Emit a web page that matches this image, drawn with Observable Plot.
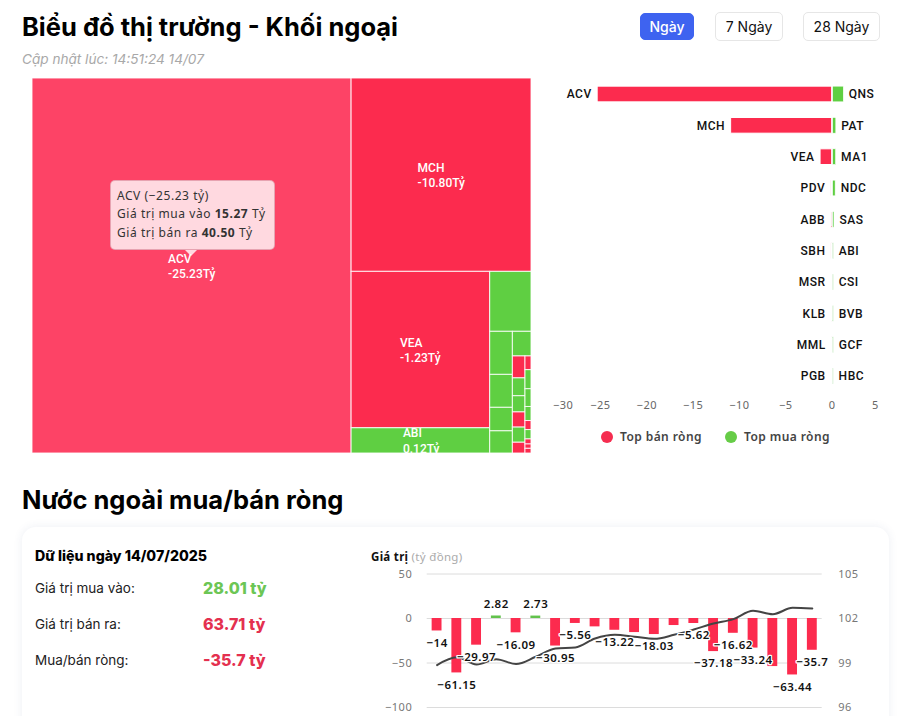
<!DOCTYPE html>
<html lang="vi">
<head>
<meta charset="utf-8">
<script src="https://cdn.jsdelivr.net/npm/d3@7"></script>
<script src="https://cdn.jsdelivr.net/npm/@observablehq/plot@0.6"></script>
<style>
html,body{margin:0;padding:0;background:#fff;width:902px;height:716px;overflow:hidden;font-family:Inter,sans-serif;color:#000}
.abs{position:absolute;white-space:nowrap}
h1,h2{margin:0;font-weight:700}
.btn{position:absolute;box-sizing:border-box;display:flex;align-items:center;justify-content:center;font-size:14px;border:1px solid #e6e6e6;border-radius:5px;color:#111;background:#fff}
#card{position:absolute;left:22px;top:527px;width:867px;height:260px;border-radius:14px;background:#fff;box-shadow:0 0 10px rgba(60,80,130,.09)}
#tip{position:absolute;left:110px;top:180px;width:165px;height:70px;box-sizing:border-box;background:rgba(255,255,255,.8);border-radius:5px;border:1px solid rgba(225,150,165,.8);padding:6px 6px;font:12px/18.3px "Noto Sans",sans-serif;letter-spacing:.55px;color:#333;white-space:nowrap}
#tip b{font-weight:700}
#tip:after{content:"";position:absolute;left:74px;top:69px;border:6px solid transparent;border-top-color:rgba(255,255,255,.8);border-bottom:0}
.leg{position:absolute;top:429px;font:600 12px/16px "Noto Sans",sans-serif;letter-spacing:.42px;color:#444;white-space:nowrap}
.dot{position:absolute;top:431px;width:12px;height:12px;border-radius:50%}
.lbl{position:absolute;left:35px;font-size:13.5px;color:#222;white-space:nowrap}
.val{position:absolute;left:203px;font-size:16px;font-weight:800;white-space:nowrap}
svg{overflow:visible}
</style>
</head>
<body>
<h1 class="abs" style="left:22px;top:10px;font-size:25.5px;line-height:34px">Biểu đồ thị trường - Khối ngoại</h1>
<div class="abs" style="left:22px;top:51px;font-size:13.6px;font-style:italic;color:#a8a8a8">Cập nhật lúc: 14:51:24 14/07</div>
<div class="btn" style="left:640px;top:13px;width:54px;height:27px;background:#3e63f0;border-color:#3e63f0;color:#fff;font-weight:500">Ngày</div>
<div class="btn" style="left:715px;top:12px;width:68px;height:29px">7 Ngày</div>
<div class="btn" style="left:803px;top:12px;width:77px;height:29px">28 Ngày</div>

<div id="treemap" class="abs" style="left:32px;top:78px"></div>
<div id="tip">ACV (−25.23 tỷ)<br>Giá trị mua vào <b>15.27</b> Tỷ<br>Giá trị bán ra <b>40.50</b> Tỷ</div>

<div id="bars" class="abs" style="left:540px;top:60px"></div>
<div class="dot" style="left:601px;background:#f52d50"></div>
<div class="leg" style="left:620px">Top bán ròng</div>
<div class="dot" style="left:725px;background:#66cc47"></div>
<div class="leg" style="left:744px">Top mua ròng</div>

<h2 class="abs" style="left:22px;top:483px;font-size:25.5px;line-height:34px">Nước ngoài mua/bán ròng</h2>
<div id="card"></div>
<div class="abs" style="left:35px;top:547px;font-size:14.2px;font-weight:800">Dữ liệu ngày 14/07/2025</div>
<div class="lbl" style="top:580px">Giá trị mua vào:</div>
<div class="val" style="top:578px;color:#6cc655">28.01 tỷ</div>
<div class="lbl" style="top:616px">Giá trị bán ra:</div>
<div class="val" style="top:614px;color:#e4304f">63.71 tỷ</div>
<div class="lbl" style="top:652px">Mua/bán ròng:</div>
<div class="val" style="top:650px;color:#e4304f">-35.7 tỷ</div>
<div class="abs" style="left:371px;top:549px;font:11.5px/15px 'Noto Sans',sans-serif;color:#aaa;letter-spacing:.3px"><b style="color:#111">Giá trị</b> (tỷ đồng)</div>
<div id="combo" class="abs" style="left:370px;top:560px"></div>

<script>
// ---------- Treemap: [name, signed cell weight] (negative = bán ròng) ----------
const tmLeft   = [["ACV", -118900]];
const tmTop    = [["MCH", -34560]];
const tmMiddle = [["VEA", -21545], ["ABI", 3475]];
const tmRightTop = [["QNS", 2460]];
const tmCol1 = [["PAT", 969], ["MA1", 742], ["NDC", 529], ["SAS", 499]];
const tmCol2Top = [["CSI", 456]];
const tmColA = [["PDV", -275], ["BVB", 224], ["GCF", 203], ["ABB", -190], ["HBC", 190], ["SBH", -135]];
const tmColB = [["MSR", -82], ["G1", 114], ["G2", 106], ["G3", 84], ["KLB", -54], ["G4", 56], ["MML", -30], ["PGB", -26], ["R1", -28]];
const tmLabels = [["ACV", "-25.23Tỷ"], ["MCH", "-10.80Tỷ"], ["VEA", "-1.23Tỷ"], ["ABI", "0.12Tỷ"]];

// ---------- Diverging bars ----------
const sellNames  = ["ACV","MCH","VEA","PDV","ABB","SBH","MSR","KLB","MML","PGB"];
const sellValues = [-25.3,-10.9,-1.25,-0.1,-0.12,-0.08,-0.06,-0.05,-0.05,-0.05];
const buyNames   = ["QNS","PAT","MA1","NDC","SAS","ABI","CSI","BVB","GCF","HBC"];
const buyValues  = [1.15,0.34,0.32,0.27,0.14,0.07,0.06,0.06,0.06,0.05];

// ---------- Net flow combo ----------
const sessions = ["17/06","18/06","19/06","20/06","23/06","24/06","25/06","26/06","27/06","30/06","01/07","02/07","03/07","04/07","07/07","08/07","09/07","10/07","11/07","14/07"];
const netValues = [-14,-61.15,-29.97,2.82,-16.09,2.73,-30.95,-5.56,-9.4,-13.22,-15.8,-18.03,-7.9,-5.62,-37.18,-16.62,-33.24,-54,-63.44,-35.7];
const hiddenLabels = ["27/06","01/07","03/07","10/07"];
const indexValues = [98.86,99.38,98.9,99.26,98.93,99.42,99.98,100.05,100.65,100.9,100.77,100.63,100.9,101.26,101.66,101.96,102.52,102.29,102.72,102.67];
const leftTicks = [50,0,-50,-100];
const rightTicks = [105,102,99,96];

const RED = "#fc2b4e", RED_HOVER = "#fd4366", GREEN = "#5fcf42";
const labelFont = {fontFamily:"'Noto Sans',sans-serif", letterSpacing:"0.5px", background:"transparent"};

// Treemap layout via d3
const leaf = ([name, w]) => ({name, value: Math.abs(w), neg: w < 0});
const tree = {children: [
  ...tmLeft.map(leaf),
  {children: [
    ...tmTop.map(leaf),
    {children: [
      {children: tmMiddle.map(leaf)},
      {children: [
        ...tmRightTop.map(leaf),
        {children: [
          {children: tmCol1.map(leaf)},
          {children: [
            ...tmCol2Top.map(leaf),
            {children: [{children: tmColA.map(leaf)}, {children: tmColB.map(leaf)}]}
          ]}
        ]}
      ]}
    ]}
  ]}
]};
const TW = 499, TH = 375;
const root = d3.treemap().tile(d3.treemapSliceDice).size([TW, TH])(d3.hierarchy(tree).sum(d => d.value || 0));
const cells = root.leaves().map(n => ({name:n.data.name, neg:n.data.neg, x0:n.x0, x1:n.x1, y0:n.y0, y1:n.y1}));
const labelled = tmLabels.map(([name, text]) => {
  const c = cells.find(d => d.name === name);
  return {text, label:`${name}\n${text}`, cx:(c.x0+c.x1)/2, cy:(c.y0+c.y1)/2};
});
document.getElementById("treemap").append(Plot.plot({
  width:TW, height:TH, margin:0,
  x:{domain:[0,TW], range:[0,TW], axis:null},
  y:{domain:[0,TH], range:[0,TH], axis:null},
  style:{background:"transparent"},
  marks:[
    Plot.rect(cells, {x1:"x0", x2:"x1", y1:"y0", y2:"y1",
      fill:d => d.name==="ACV" ? RED_HOVER : d.neg ? RED : GREEN, stroke:"#fff", strokeWidth:1, strokeOpacity:.85}),
    ...labelled.map(d => Plot.text([d], {x:"cx", y:"cy", text:"label", dx:-d.text.length*3, dy:d.text==="0.12Tỷ"?-1:-0.5, textAnchor:"start",
      lineHeight:1.3, fill:"#fff", fontSize:12, fontWeight:500, fontFamily:"Roboto,sans-serif"}))
  ]
}));

// Diverging bars
const rows = sellNames.map((s,i) => ({rank:i, sell:s, sv:sellValues[i], buy:buyNames[i], bv:buyValues[i]}));
const ranks = rows.map(d => d.rank);
document.getElementById("bars").append(Plot.plot({
  width:362, height:365,
  marginLeft:13.6, marginRight:24, marginTop:10.5, marginBottom:25.5,
  x:{domain:[-30,5]},
  y:{domain:ranks, padding:.5, round:false, axis:null},
  style:{...labelFont},
  marks:[
    Plot.tickX(rows, {x:0, y:"rank", stroke:"#e6ebf1", strokeWidth:2}),
    Plot.barX(rows, {x1:"sv", x2:0, y:"rank", fill:RED, stroke:"#fff", strokeWidth:1}),
    Plot.barX(rows, {x1:0, x2:"bv", y:"rank", fill:GREEN, stroke:"#fff", strokeWidth:.6, dx:1}),
    Plot.text(rows, {x:"sv", y:"rank", text:"sell", textAnchor:"end", dx:-6, fontSize:12, fontWeight:500, fill:"#111", fontFamily:"Roboto,sans-serif", letterSpacing:"0"}),
    Plot.text(rows, {x:"bv", y:"rank", text:"buy", textAnchor:"start", dx:6, fontSize:12, fontWeight:500, fill:"#111", fontFamily:"Roboto,sans-serif", letterSpacing:"0"}),
    Plot.axisX({ticks:[-25,-20,-15,-10,-5,0], tickSize:0, tickPadding:1, label:null, tickFormat:d=>d<0?"−"+(-d):d, fontSize:11, color:"#666"}),
    Plot.axisX({ticks:[-30], tickSize:0, tickPadding:1, label:null, dx:9, tickFormat:d=>"−"+(-d), fontSize:11, color:"#666"}),
    Plot.axisX({ticks:[5], tickSize:0, tickPadding:1, label:null, dx:-3, fontSize:11, color:"#666"})
  ]
}));

// Combo chart: index line mapped on to the net-value scale (secondary axis)
const toNet = d3.scaleLinear().domain([96,105]).range([-100,50]);
const combo = sessions.map((s,i) => ({s, net:netValues[i], idx:toNet(indexValues[i]),
  text:(netValues[i]<0 ? "−"+(-netValues[i]) : ""+netValues[i])}));
const shownNeg = combo.filter(d => d.net<0 && !hiddenLabels.includes(d.s));
const shownPos = combo.filter(d => d.net>=0);
document.getElementById("combo").append(Plot.plot({
  width:520, height:156,
  marginLeft:56.7, marginRight:68.3, marginTop:13.5, marginBottom:9,
  x:{domain:sessions, paddingInner:.5, paddingOuter:.25, round:false, axis:null},
  y:{domain:[-100,50], axis:null},
  style:{...labelFont},
  marks:[
    Plot.gridY(leftTicks, {stroke:"#dcdcdc", strokeOpacity:1}),
    Plot.axisY({anchor:"left", ticks:leftTicks, tickSize:0, tickPadding:15, label:null, fontSize:11, color:"#777", tickFormat:d=>d<0?"−"+(-d):d}),
    Plot.axisY({anchor:"right", ticks:leftTicks, tickSize:0, tickPadding:16, label:null, fontSize:11, color:"#777", tickFormat:d=>rightTicks[leftTicks.indexOf(d)]}),
    Plot.barY(combo, {x:"s", y1:0, y2:"net", fill:d=>d.net<0?RED:"#62c24c"}),
    Plot.line(combo, {x:"s", y:"idx", stroke:"#444", strokeWidth:2, curve:"monotone-x"}),
    Plot.text(shownNeg, {x:"s", y:"net", text:"text", dy:12, fontSize:11.5, fontWeight:600, fill:"#111", stroke:"#fff", strokeWidth:2.5, letterSpacing:"0.15px"}),
    Plot.text(shownPos, {x:"s", y:"net", text:"text", dy:-12, fontSize:11.5, fontWeight:600, fill:"#111", stroke:"#fff", strokeWidth:2.5, letterSpacing:"0.15px"})
  ]
}));
</script>
</body>
</html>
